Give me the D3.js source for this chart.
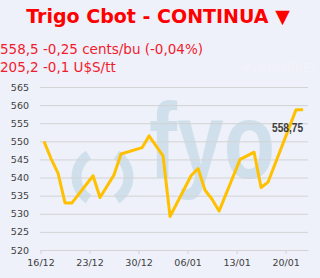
<!DOCTYPE html>
<html>
<head>
<meta charset="utf-8">
<script src="https://cdn.jsdelivr.net/npm/d3@7"></script>
<style>
  html, body { margin: 0; padding: 0; background: #eef1f9; }
  svg { display: block; }
</style>
</head>
<body>
<div id="chart"></div>
<script>
// data
var dates = ["2019-12-16", "2019-12-17", "2019-12-18", "2019-12-19", "2019-12-20",
             "2019-12-23", "2019-12-24", "2019-12-26", "2019-12-27", "2019-12-30",
             "2019-12-31", "2020-01-02", "2020-01-03", "2020-01-06", "2020-01-07",
             "2020-01-08", "2020-01-09", "2020-01-10", "2020-01-13", "2020-01-14",
             "2020-01-15", "2020-01-16", "2020-01-17", "2020-01-21", "2020-01-22"];
var prices = [550, 545.25, 541.25, 533, 533,
              540.5, 534.5, 540.75, 546.5, 548.25,
              551.5, 546, 529.25, 540.5, 542.5,
              536.5, 534, 530.75, 545, 546,
              547, 537.25, 538.75, 558.75, 558.75];
var yTicks = [520, 525, 530, 535, 540, 545, 550, 555, 560, 565];
var xTicks = ["2019-12-16", "2019-12-23", "2019-12-30", "2020-01-06", "2020-01-13", "2020-01-20"];

var title = "Trigo Cbot - CONTINUA \u25BC";
var line1 = "558,5 -0,25 cents/bu (-0,04%)";
var line2 = "205,2 -0,1 U$S/tt";
var lastLabel = "558,75";

var width = 320, height = 278;
var parse = d3.timeParse("%Y-%m-%d");

var data = dates.map(function (d, i) {
    var t = parse(d);
    t.setHours(12);
    return { date: t, value: prices[i] };
});

var start = parse("2019-12-16");
var end = new Date(start.getTime() + 38.2 * 864e5);

var x = d3.scaleTime().domain([start, end]).range([40.5, 308]);
var y = d3.scaleLinear().domain([520, 565]).range([250, 87]);

var svg = d3.select("#chart")
    .append("svg")
    .attr("width", width)
    .attr("height", height);

svg.append("rect")
    .attr("width", width)
    .attr("height", height)
    .style("fill", "#eef1f9");

// watermark logo
var wm = svg.append("g").style("fill", "#cfe0ec");
var arc = d3.arc().innerRadius(21).outerRadius(31);
wm.append("path")
    .attr("transform", "translate(102.5,177)")
    .attr("d", arc({ startAngle: -Math.PI * 0.82, endAngle: -Math.PI * 0.18 }));
wm.append("path")
    .attr("transform", "translate(102.5,177)")
    .attr("d", arc({ startAngle: Math.PI * 0.18, endAngle: Math.PI * 0.82 }));
wm.append("text")
    .attr("transform", "translate(149,178) scale(1,1.28)")
    .style("font-family", "Liberation Sans, Arial, sans-serif")
    .style("font-weight", "bold")
    .style("font-size", "84px")
    .text("fyo");

svg.append("text")
    .attr("x", 317)
    .attr("y", 72)
    .attr("text-anchor", "end")
    .style("font-family", "DejaVu Sans, sans-serif")
    .style("font-size", "12px")
    .style("fill", "#f2f4fa")
    .text("#\u00BFNOMBRE?");

// title and quotes
svg.append("text")
    .attr("x", 158)
    .attr("y", 23)
    .attr("text-anchor", "middle")
    .style("font-family", "DejaVu Sans, sans-serif")
    .style("font-weight", "bold")
    .style("font-size", "19px")
    .style("fill", "#ff0000")
    .text(title);

svg.append("text")
    .attr("x", 0)
    .attr("y", 54)
    .style("font-family", "DejaVu Sans, sans-serif")
    .style("font-size", "13.5px")
    .style("fill", "#f21b2d")
    .text(line1);

svg.append("text")
    .attr("x", 0)
    .attr("y", 72)
    .style("font-family", "DejaVu Sans, sans-serif")
    .style("font-size", "13.5px")
    .style("fill", "#f21b2d")
    .text(line2);

// gridlines + y labels
var yAxis = d3.axisLeft(y)
    .tickValues(yTicks)
    .tickSize(-(308 - 40))
    .tickPadding(11)
    .tickFormat(d3.format("d"));

var gy = svg.append("g")
    .attr("transform", "translate(40,0)")
    .call(yAxis);
gy.select(".domain").remove();
gy.selectAll("line").style("stroke", "#d3d3d3");
gy.selectAll("text")
    .style("font-family", "DejaVu Sans, sans-serif")
    .style("font-size", "9.5px")
    .style("fill", "#404040");

// x axis
var xAxis = d3.axisBottom(x)
    .tickValues(xTicks.map(parse))
    .tickSize(4)
    .tickSizeOuter(0)
    .tickPadding(5)
    .tickFormat(d3.timeFormat("%d/%m"));

var gx = svg.append("g")
    .attr("transform", "translate(0,250)")
    .call(xAxis);
gx.select(".domain").style("stroke", "#d3d3d3");
gx.selectAll("line").style("stroke", "#d3d3d3");
gx.selectAll("text")
    .style("font-family", "DejaVu Sans, sans-serif")
    .style("font-size", "9.5px")
    .style("fill", "#404040");

// price line
var line = d3.line()
    .x(function (d) { return x(d.date); })
    .y(function (d) { return y(d.value); });

svg.append("path")
    .datum(data)
    .attr("d", line)
    .style("fill", "none")
    .style("stroke", "#ffc000")
    .style("stroke-width", 3)
    .style("stroke-linejoin", "round");

var last = data[data.length - 2];
svg.append("text")
    .attr("x", x(last.date) + 7)
    .attr("y", y(last.value) + 22)
    .attr("text-anchor", "end")
    .attr("textLength", 31)
    .attr("lengthAdjust", "spacingAndGlyphs")
    .style("font-family", "Liberation Sans, sans-serif")
    .style("font-weight", "bold")
    .style("font-size", "12px")
    .style("fill", "#404040")
    .text(lastLabel);
</script>
</body>
</html>
